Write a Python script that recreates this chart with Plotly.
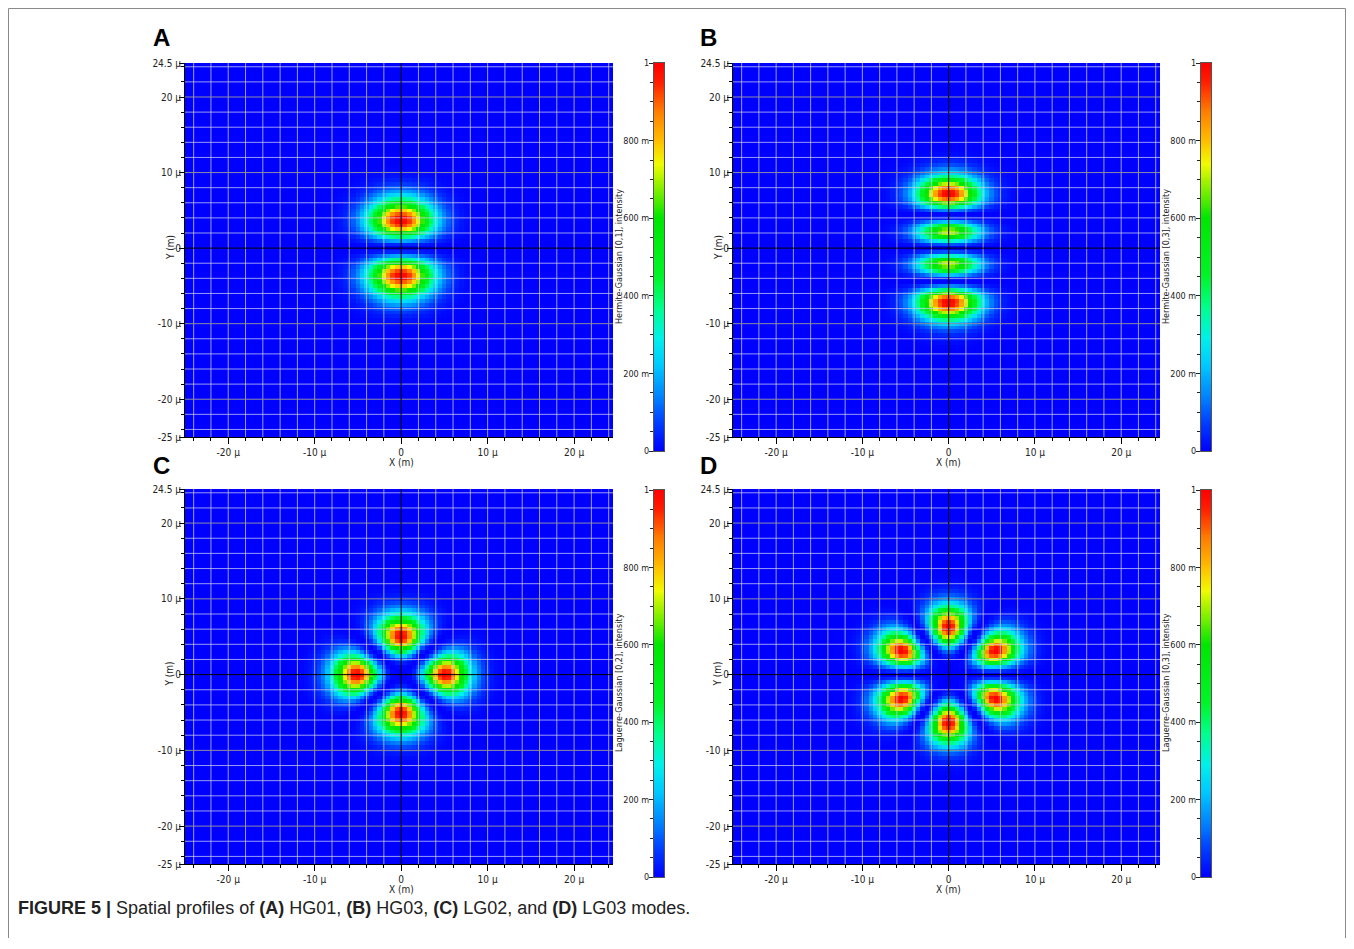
import numpy as np
import plotly.graph_objects as go
from numpy.polynomial.hermite import hermval

# ---------------- data ----------------
panel_letters = ["A", "B", "C", "D"]
mode_names = ["HG01", "HG03", "LG02", "LG03"]
mode_family = ["HG", "HG", "LG", "LG"]
mode_order = [1, 3, 2, 3]            # HG: index along y ; LG: azimuthal index l (petal beam)
beam_waist_um = [5.2, 5.0, 5.1, 5.15]
petal_phase_deg = [0, 0, 0, 90]      # LG petal orientation
cbar_titles = [
    "Hermite-Gaussian [0,1], intensity",
    "Hermite-Gaussian [0,3], intensity",
    "Laguerre-Gaussian [0,2], intensity",
    "Laguerre-Gaussian [0,3], intensity",
]
x_um = np.arange(-25.0, 24.5 + 1e-9, 0.5)
y_um = np.arange(-25.0, 24.5 + 1e-9, 0.5)

x_tickvals = [-20, -10, 0, 10, 20]
x_ticktext = ["-20 µ", "-10 µ", "0", "10 µ", "20 µ"]
y_tickvals = [-25, -20, -10, 0, 10, 20, 24.5]
y_ticktext = ["-25 µ", "-20 µ", "-10 µ", "0", "10 µ", "20 µ", "24.5 µ"]
minor_steps = [-24, -22, -20, -18, -16, -14, -12, -10, -8, -6, -4, -2, 0,
               2, 4, 6, 8, 10, 12, 14, 16, 18, 20, 22, 24]
major_h_grid = [-20, -10, 10, 20]
cbar_tickvals = [0, 0.2, 0.4, 0.6, 0.8, 1.0]
cbar_ticktext = ["0", "200 m", "400 m", "600 m", "800 m", "1"]
cbar_minor = [0.05, 0.1, 0.15, 0.25, 0.3, 0.35, 0.45, 0.5, 0.55, 0.65, 0.7, 0.75,
              0.85, 0.9, 0.95]
cbar_levels = [i / 200 for i in range(201)]

jet_like = [
    [0.00, "rgb(0,0,255)"],
    [0.06, "rgb(0,50,255)"],
    [0.14, "rgb(0,130,255)"],
    [0.22, "rgb(0,200,255)"],
    [0.29, "rgb(0,240,235)"],
    [0.37, "rgb(0,255,140)"],
    [0.45, "rgb(0,245,40)"],
    [0.60, "rgb(0,230,0)"],
    [0.68, "rgb(140,240,0)"],
    [0.74, "rgb(240,250,0)"],
    [0.80, "rgb(255,190,0)"],
    [0.88, "rgb(255,120,0)"],
    [0.95, "rgb(255,30,0)"],
    [1.00, "rgb(255,0,0)"],
]

# ---------------- layout geometry (screen pixels) ----------------
OFF = 8
W, H = 1338, 930
panel_x = [(185, 613), (733, 1160), (185, 613), (733, 1160)]
panel_y = [(63, 437), (63, 437), (489, 864), (489, 864)]
cbar_x = [(654, 664), (1201, 1211), (654, 664), (1201, 1211)]
cbar_y = [(63, 451), (63, 451), (490, 877), (490, 877)]
cbar_title_pos = [(619, 257), (1166, 257), (619, 683), (1166, 683)]
letter_pos = [(161, 38), (708, 38), (161, 465), (708, 465)]


def px(v):
    return (v - OFF) / W


def py(v):
    return 1 - (v - OFF) / H


def intensity(fam, order, w, phase):
    X, Y = np.meshgrid(x_um, y_um)
    if fam == "HG":
        u = np.sqrt(2) * Y / w
        coeffs = [0] * order + [1]
        I = hermval(u, coeffs) ** 2 * np.exp(-2 * (X ** 2 + Y ** 2) / w ** 2)
    else:
        r2 = X ** 2 + Y ** 2
        phi = np.arctan2(Y, X)
        I = (2 * r2 / w ** 2) ** order * np.exp(-2 * r2 / w ** 2) * \
            np.cos(order * phi - np.deg2rad(phase)) ** 2
    return I / I.max()


NARROW = "Liberation Sans Narrow, DejaVu Sans Condensed, Arial Narrow, sans-serif"
TICK_FONT = dict(family=NARROW, size=10, color="#222")
CB_FONT = dict(family=NARROW, size=9, color="#222")

fig = go.Figure()
layout = dict(width=W, height=H, margin=dict(l=0, r=0, t=0, b=0),
              paper_bgcolor="white", plot_bgcolor="white", showlegend=False)
annotations = []

for i in range(4):
    xa = 2 * i + 1
    ca = 2 * i + 2
    xs = "" if xa == 1 else str(xa)
    z = intensity(mode_family[i], mode_order[i], beam_waist_um[i], petal_phase_deg[i])
    fig.add_trace(go.Heatmap(x=x_um, y=y_um, z=z, zmin=0, zmax=1, colorscale=jet_like,
                             showscale=False, xaxis="x" + xs, yaxis="y" + xs,
                             hoverinfo="skip"))
    # grid lines drawn above the heatmap
    gx, gy = [], []
    for v in minor_steps:
        if v == 0:
            continue
        gx += [v, v, None]
        gy += [-25, 24.5, None]
        if v not in major_h_grid:
            gx += [-25, 24.5, None]
            gy += [v, v, None]
    fig.add_trace(go.Scatter(x=gx, y=gy, mode="lines",
                             line=dict(color="rgba(205,205,235,0.75)", width=1),
                             xaxis="x" + xs, yaxis="y" + xs, hoverinfo="skip"))
    hx, hy = [], []
    for v in major_h_grid:
        hx += [-25, 24.5, None]
        hy += [v, v, None]
    fig.add_trace(go.Scatter(x=hx, y=hy, mode="lines",
                             line=dict(color="rgb(140,140,160)", width=1),
                             xaxis="x" + xs, yaxis="y" + xs, hoverinfo="skip"))
    fig.add_trace(go.Scatter(x=[0, 0, None, -25, 24.5], y=[-25, 24.5, None, 0, 0], mode="lines",
                             line=dict(color="black", width=1),
                             xaxis="x" + xs, yaxis="y" + xs, hoverinfo="skip"))
    # colour bar as its own little heatmap
    fig.add_trace(go.Heatmap(x=[0], y=cbar_levels, z=[[v] for v in cbar_levels],
                             zmin=0, zmax=1, colorscale=jet_like, showscale=False,
                             xaxis="x" + str(ca), yaxis="y" + str(ca), hoverinfo="skip"))

    layout["xaxis" + xs] = dict(
        domain=[px(panel_x[i][0]), px(panel_x[i][1])], anchor="y" + xs,
        range=[-25, 24.5], showgrid=False, zeroline=False,
        tickmode="array", tickvals=x_tickvals, ticktext=x_ticktext,
        ticks="outside", ticklen=6, tickcolor="black", tickfont=TICK_FONT,
        minor=dict(tickvals=minor_steps, ticks="outside", ticklen=3, tickcolor="black", showgrid=False),
        showline=True, linecolor="black", linewidth=1, layer="above traces", automargin=False)
    layout["yaxis" + xs] = dict(
        domain=[py(panel_y[i][1]), py(panel_y[i][0])], anchor="x" + xs,
        range=[-25, 24.5], showgrid=False, zeroline=False,
        tickmode="array", tickvals=y_tickvals, ticktext=y_ticktext,
        ticks="outside", ticklen=5, tickcolor="black", tickfont=TICK_FONT,
        ticklabelstandoff=-4,
        minor=dict(tickvals=minor_steps, ticks="outside", ticklen=3, tickcolor="black", showgrid=False),
        showline=True, linecolor="black", linewidth=1, layer="above traces", automargin=False)
    layout["xaxis" + str(ca)] = dict(
        domain=[px(cbar_x[i][0]), px(cbar_x[i][1])], anchor="y" + str(ca),
        range=[-0.5, 0.5], showgrid=False, zeroline=False, showticklabels=False, ticks="",
        showline=True, mirror=True, linecolor="#555", linewidth=1, automargin=False)
    layout["yaxis" + str(ca)] = dict(
        domain=[py(cbar_y[i][1]), py(cbar_y[i][0])], anchor="x" + str(ca),
        range=[0, 1], side="left", showgrid=False, zeroline=False,
        tickmode="array", tickvals=cbar_tickvals, ticktext=cbar_ticktext,
        ticks="outside", ticklen=4, tickcolor="#222", tickfont=CB_FONT,
        ticklabelstandoff=-2,
        minor=dict(tickvals=cbar_minor, ticks="outside", ticklen=3, tickcolor="#222", showgrid=False),
        showline=True, mirror=True, linecolor="#555", linewidth=1, automargin=False)

    annotations.append(dict(text="X (m)", xref="x" + xs, x=0, yref="y" + xs + " domain", y=0,
                            xanchor="center", yanchor="top", yshift=-18, showarrow=False,
                            font=TICK_FONT))
    annotations.append(dict(text="Y (m)", xref="x" + xs + " domain", x=0, xshift=-15,
                            yref="y" + xs, y=0, xanchor="center", yanchor="middle",
                            textangle=-90, showarrow=False, font=TICK_FONT))
    annotations.append(dict(text=cbar_titles[i], xref="paper", yref="paper",
                            x=px(cbar_title_pos[i][0]), y=py(cbar_title_pos[i][1]),
                            xanchor="center", yanchor="middle", textangle=-90,
                            showarrow=False, font=CB_FONT))
    annotations.append(dict(text="<b>" + panel_letters[i] + "</b>", xref="paper", yref="paper",
                            x=px(letter_pos[i][0]), y=py(letter_pos[i][1]),
                            xanchor="center", yanchor="middle",
                            showarrow=False, font=dict(family="Liberation Sans, Arial, sans-serif",
                                                       size=24, color="black")))

parts = []
for k, (l, m) in enumerate(zip(panel_letters, mode_names)):
    prefix = "and " if k == len(panel_letters) - 1 else ""
    parts.append(prefix + "<b>(" + l + ")</b> " + m)
caption = "<b>FIGURE 5 |</b> Spatial profiles of " + ", ".join(parts) + " modes."
annotations.append(dict(text=caption, xref="paper", yref="paper", x=px(16), y=py(908),
                        xanchor="left", yanchor="middle", showarrow=False,
                        font=dict(family="Liberation Sans, Arial, sans-serif", size=18, color="#222")))
layout["annotations"] = annotations
layout["shapes"] = [dict(type="rect", xref="paper", yref="paper",
                         x0=px(8.5), x1=px(1345.5), y0=py(960), y1=py(8.5),
                         line=dict(color="#8a8a8a", width=1))]

fig.update_layout(**layout)
fig.write_html("out.html")
